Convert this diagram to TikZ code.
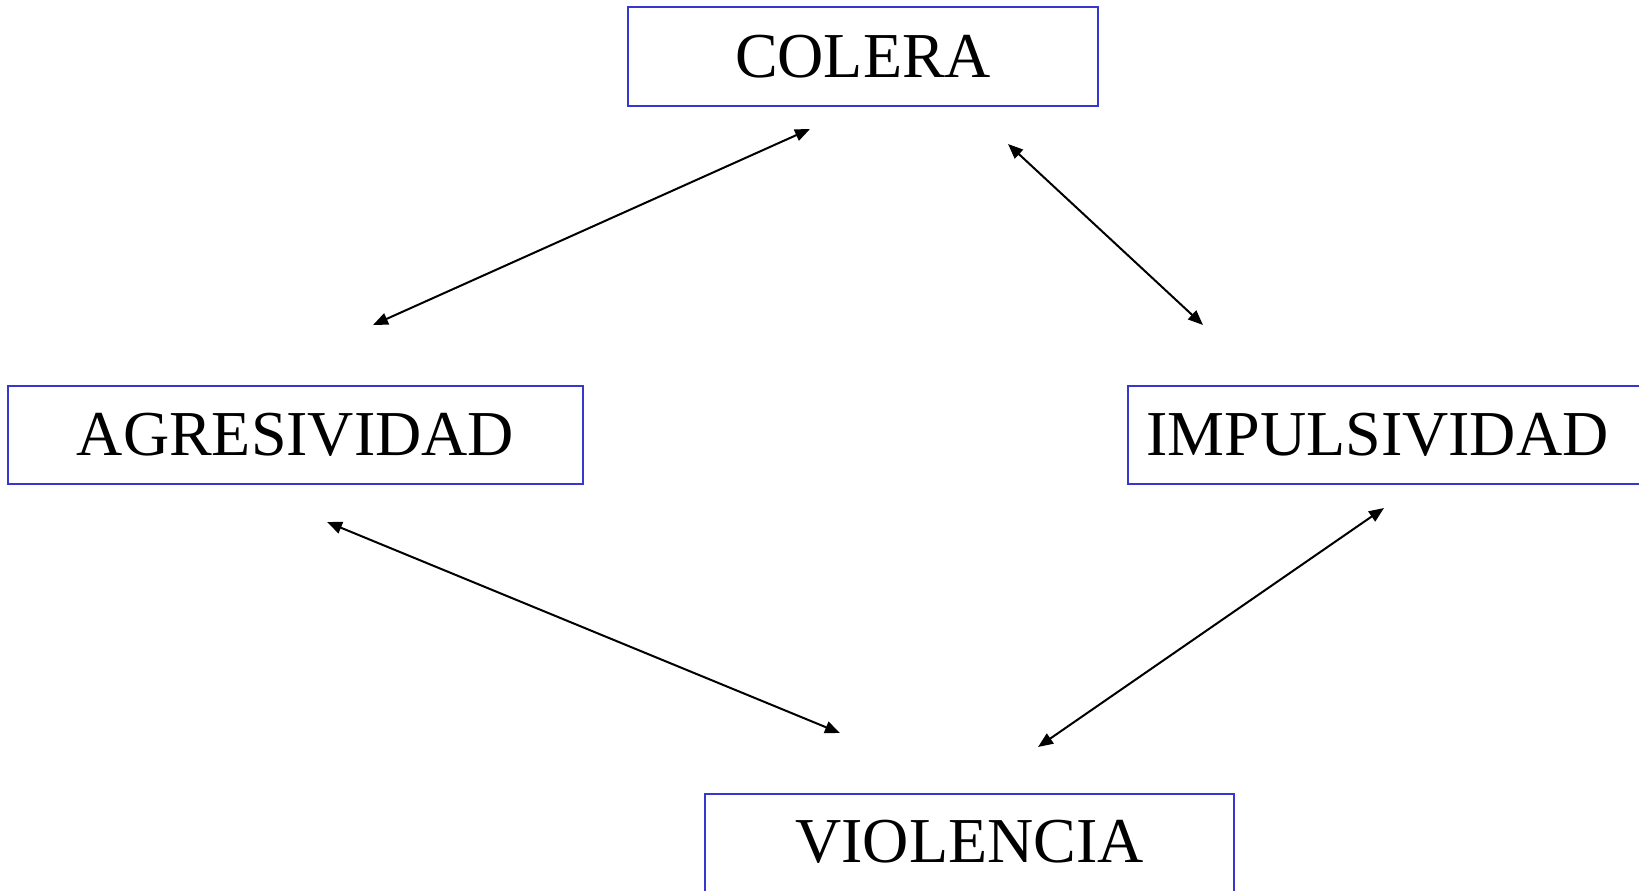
\documentclass[tikz,border=0pt]{standalone}
\usepackage{fontspec}
\setmainfont{Liberation Serif}
\usetikzlibrary{arrows.meta}
\definecolor{boxblue}{RGB}{55,55,205}
\begin{document}
\begin{tikzpicture}[x=1pt,y=-1pt,
  conceptbox/.style={draw=boxblue, line width=2pt, rectangle, inner sep=0pt},
  conceptlabel/.style={font=\fontsize{64}{70}\selectfont, inner sep=0pt},
  link/.style={line width=2pt, {Triangle[length=15pt,width=12pt]}-{Triangle[length=15pt,width=12pt]}}
]
\useasboundingbox[fill=white] (0,0) rectangle (1639,891);

\node[conceptbox, minimum width=470pt, minimum height=99pt] (colera) at (863,56.5) {};
\node[conceptlabel] (coleratext) at (colera.center) {COLERA};

\node[conceptbox, minimum width=575pt, minimum height=98pt] (agres) at (295.5,435) {};
\node[conceptlabel] (agrestext) at (agres.center) {AGRESIVIDAD};

\node[conceptbox, minimum width=540pt, minimum height=98pt] (impuls) at (1398,435) {};
\node[conceptlabel] (impulstext) at (1377.5,435) {IMPULSIVIDAD};

\node[conceptbox, minimum width=529pt, minimum height=98pt] (viol) at (969.5,843) {};
\node[conceptlabel] (violtext) at (969.5,842) {VIOLENCIA};

\coordinate (a1) at (810,129);
\coordinate (a2) at (373,325);
\coordinate (b1) at (1008,144);
\coordinate (b2) at (1203,325);
\coordinate (c1) at (327,522);
\coordinate (c2) at (840,733);
\coordinate (d1) at (1384,508);
\coordinate (d2) at (1038,747);

\draw[link] (a2) -- (a1);
\draw[link] (b1) -- (b2);
\draw[link] (c1) -- (c2);
\draw[link] (d2) -- (d1);
\end{tikzpicture}
\end{document}
